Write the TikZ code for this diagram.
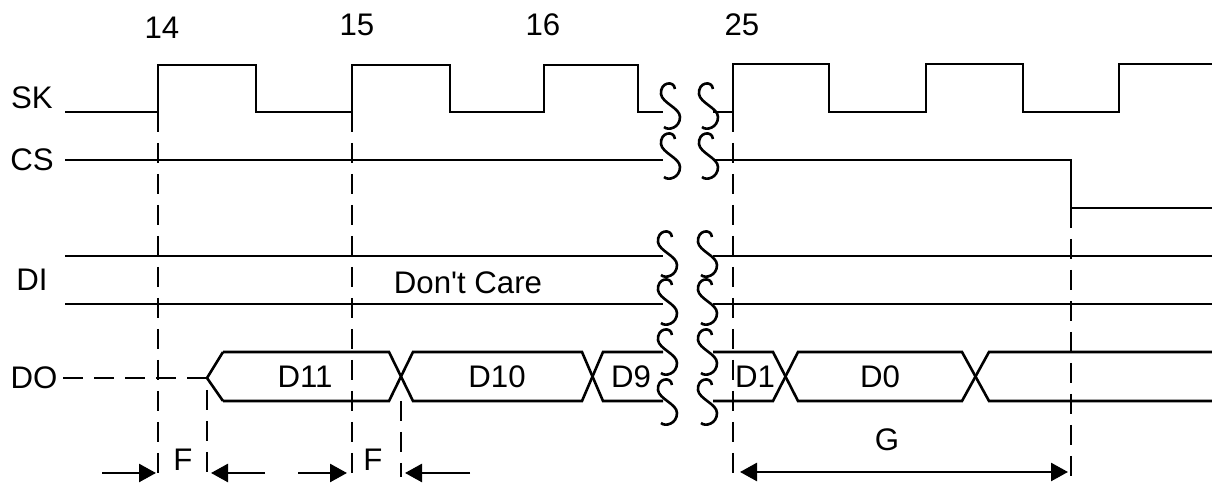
\documentclass[tikz,border=0pt]{standalone}
\usepackage{fontspec}
\newfontfamily\lsans{Liberation Sans}
\usetikzlibrary{arrows.meta}
\newcommand\sqg[2]{%
  \draw[wave] ({#1+5},{#2-17}) .. controls ({#1+4},{#2-26}) and ({#1-10},{#2-24}) .. ({#1-9},{#2-12})
    .. controls ({#1-8},{#2-3}) and ({#1+10},{#2+2}) .. ({#1+10},{#2+11})
    .. controls ({#1+10},{#2+22}) and ({#1-2},{#2+25}) .. ({#1-6},{#2+21});}
\begin{document}
\begin{tikzpicture}[x=0.5pt,y=-0.5pt,
  wave/.style={line width=1.3pt,line join=miter},
  guide/.style={line width=1.3pt,dash pattern=on 10pt off 5.5pt},
  lbl/.style={font=\lsans\fontsize{15.6}{18}\selectfont,inner sep=0pt,anchor=center},
  dim/.style={line width=1.3pt,-{Triangle[length=8.5pt,width=9pt]}},
  dimboth/.style={line width=1.3pt,{Triangle[length=8.5pt,width=9pt]}-{Triangle[length=8.5pt,width=9pt]}}]
\useasboundingbox (0,0) rectangle (1212,485);
% labels
\node[lbl] (n14) at (162,28) {14};
\node[lbl] (n15) at (357,25) {15};
\node[lbl] (n16) at (543,25) {16};
\node[lbl] (n25) at (742,25) {25};
\node[lbl] (sk) at (32,98) {SK};
\node[lbl] (cs) at (32,160) {CS};
\node[lbl] (di) at (32,280) {DI};
\node[lbl] (do) at (34,378) {DO};
\node[lbl] (dc) at (468,283) {Don't Care};
\node[lbl] (d11) at (305,377) {D11};
\node[lbl] (d10) at (497,377) {D10};
\node[lbl] (d9) at (631,377) {D9};
\node[lbl] (d1) at (755,377) {D1};
\node[lbl] (d0) at (880,377) {D0};
\node[lbl] (f1) at (183,460) {F};
\node[lbl] (f2) at (373,460) {F};
\node[lbl] (g) at (887,440) {G};
% SK
\draw[wave] (65,112) -- (158,112) -- (158,65) -- (256,65) -- (256,112) -- (352,112) -- (352,65)
  -- (450,65) -- (450,112) -- (544,112) -- (544,65) -- (638,65) -- (638,112) -- (663,112);
\draw[wave] (713,112) -- (733,112) -- (733,64) -- (829,64) -- (829,112) -- (926,112) -- (926,64)
  -- (1023,64) -- (1023,112) -- (1119,112) -- (1119,64) -- (1212,64);
\sqg{670}{106}\sqg{708}{106}
% CS
\draw[wave] (65,160) -- (663,160);
\draw[wave] (713,160) -- (1071,160) -- (1071,208) -- (1212,208);
\sqg{670}{156}\sqg{708}{156}
% DI
\draw[wave] (65,256) -- (663,256);
\draw[wave] (713,256) -- (1212,256);
\draw[wave] (65,304) -- (663,304);
\draw[wave] (713,304) -- (1212,304);
\sqg{667}{254}\sqg{707}{254}
\sqg{667}{302}\sqg{707}{302}
% DO
\draw[guide] (63,378) -- (207,378);
\draw[wave] (223,352) -- (207,378) -- (223,401);
\draw[wave] (223,352) -- (389,352) -- (413,401) -- (582,401) -- (603,352) -- (663,352);
\draw[wave] (223,401) -- (389,401) -- (413,352) -- (582,352) -- (603,401) -- (663,401);
\draw[wave] (713,352) -- (773,352) -- (798,401) -- (962,401) -- (989,352) -- (1212,352);
\draw[wave] (713,401) -- (773,401) -- (798,352) -- (962,352) -- (989,401) -- (1212,401);
\sqg{667}{352}\sqg{707}{352}
\sqg{667}{402}\sqg{707}{402}
% guides
\coordinate (a1) at (158,112); \coordinate (a2) at (158,477);
\coordinate (b1) at (352,112); \coordinate (b2) at (352,477);
\coordinate (c1) at (207,390); \coordinate (c2) at (207,477);
\coordinate (e1) at (401,401); \coordinate (e2) at (401,477);
\coordinate (h1) at (733,112); \coordinate (h2) at (733,477);
\coordinate (k1) at (1071,208); \coordinate (k2) at (1071,477);
\draw[guide] (a1) -- (a2);
\draw[guide] (b1) -- (b2);
\draw[guide] (c1) -- (c2);
\draw[guide] (e1) -- (e2);
\draw[guide] (h1) -- (h2);
\draw[guide] (k1) -- (k2);
% dimension arrows
\coordinate (p1) at (102,473); \coordinate (p2) at (156,473);
\coordinate (p3) at (265,473); \coordinate (p4) at (211,473);
\coordinate (p5) at (298,473); \coordinate (p6) at (347,473);
\coordinate (p7) at (470,473); \coordinate (p8) at (405,473);
\coordinate (q1) at (740,472); \coordinate (q2) at (1068,472);
\draw[dim] (p1) -- (p2);
\draw[dim] (p3) -- (p4);
\draw[dim] (p5) -- (p6);
\draw[dim] (p7) -- (p8);
\draw[dimboth] (q1) -- (q2);
\end{tikzpicture}
\end{document}
